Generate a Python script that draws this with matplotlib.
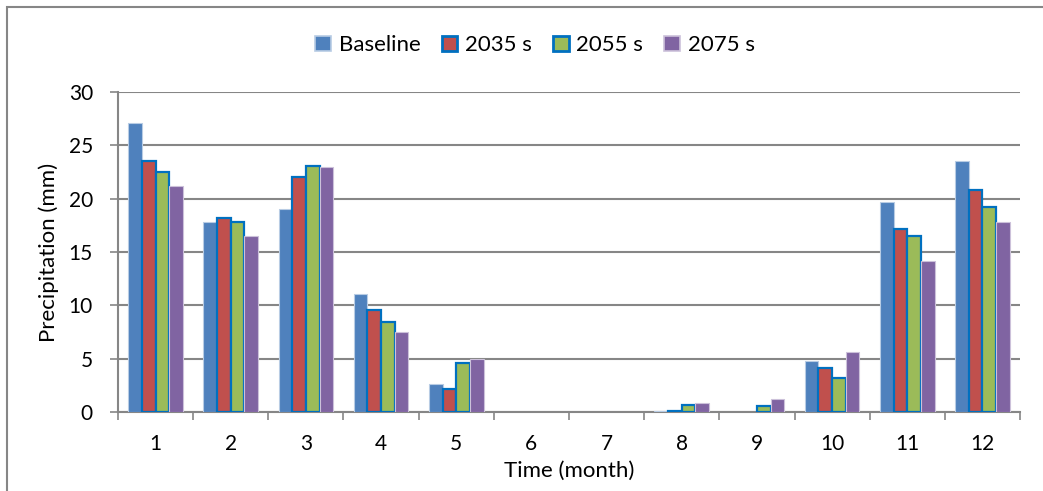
import numpy as np
import matplotlib
matplotlib.use("Agg")
import matplotlib.pyplot as plt
from matplotlib.patches import Rectangle, Patch

plt.rcParams['font.family'] = ['Lato', 'DejaVu Sans']

months = ['1', '2', '3', '4', '5', '6', '7', '8', '9', '10', '11', '12']
series = ['Baseline', '2035 s', '2055 s', '2075 s']
baseline = [27.1, 17.85, 19.0, 11.05, 2.65, 0.0, 0.0, 0.12, 0.0, 4.8, 19.65, 23.55]
s2035 = [23.5, 18.2, 22.05, 9.55, 2.2, 0.0, 0.0, 0.05, 0.0, 4.1, 17.2, 20.8]
s2055 = [22.5, 17.85, 23.1, 8.45, 4.6, 0.0, 0.0, 0.7, 0.55, 3.15, 16.5, 19.2]
s2075 = [21.15, 16.5, 23.0, 7.5, 4.95, 0.0, 0.0, 0.85, 1.2, 5.6, 14.2, 17.8]

colors = ['#4F81BD', '#C0504D', '#9BBB59', '#8064A2']
edges = ['#B8CCE4', '#0070C0', '#0070C0', '#CCC1DA']
lws = [0.8, 1.6, 1.6, 0.8]
grey = '#868686'

fig = plt.figure(figsize=(10.43, 4.91), dpi=100)
ax = fig.add_axes([0.1131, 0.1609, 0.8649, 0.6517])

x = np.arange(1, len(months) + 1)
w = 0.182
data = [baseline, s2035, s2055, s2075]
for i, vals in enumerate(data):
    # no outline on empty months
    lw = [lws[i] if v > 0 else 0 for v in vals]
    ax.bar(x + (i - 1.5) * w, vals, width=w, color=colors[i],
           edgecolor=edges[i], linewidth=lw, zorder=3)

ax.set_xlim(0.5, 12.5)
ax.set_ylim(0, 30)
ax.set_yticks(range(0, 31, 5))
ax.yaxis.grid(True, color=grey, linewidth=1.5, zorder=0)
ax.set_axisbelow(True)

ax.set_xticks(np.arange(0.5, 13, 1))
ax.set_xticklabels([])
ax.set_xticks(x, minor=True)
ax.set_xticklabels(months, minor=True)
ax.tick_params(axis='x', which='major', length=6, width=1.2, color=grey, direction='out')
ax.tick_params(axis='x', which='minor', length=0, pad=16, labelsize=15)
ax.tick_params(axis='y', length=6, width=1.2, color=grey, labelsize=15, pad=12)

for s in ['top', 'right']:
    ax.spines[s].set_visible(False)
for s in ['left', 'bottom']:
    ax.spines[s].set_color(grey)
    ax.spines[s].set_linewidth(1.5)

ax.set_ylabel('Precipitation (mm)', fontsize=16, labelpad=7)
ax.set_xlabel('Time (month)', fontsize=16, labelpad=5)

handles = [Patch(facecolor=colors[i], edgecolor=edges[i], linewidth=lws[i] + 0.4)
           for i in range(4)]
fig.legend(handles, series, loc='center', bbox_to_anchor=(0.513, 0.908), ncol=4,
           frameon=False, fontsize=16, handlelength=0.7, handleheight=0.7,
           handletextpad=0.35, columnspacing=0.95)

fig.add_artist(Rectangle((7 / 1043, -0.2), 1.2, 1.2 - 7 / 491,
                         transform=fig.transFigure, fill=False,
                         edgecolor=grey, linewidth=1.5))

fig.savefig('out.png', dpi=100)
